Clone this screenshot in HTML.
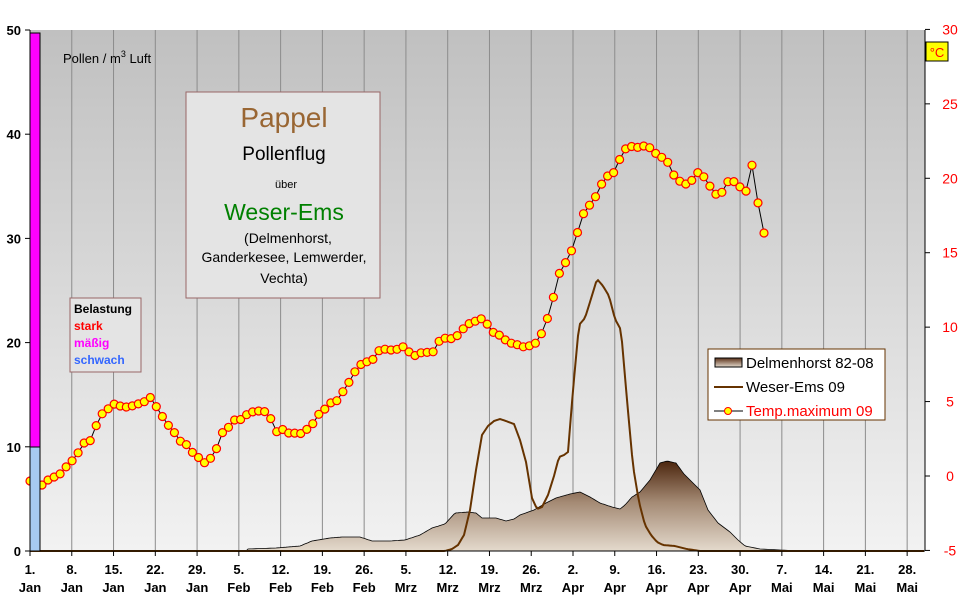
<!DOCTYPE html>
<html><head><meta charset="utf-8">
<style>
body{margin:0;background:#fff;width:966px;height:604px;overflow:hidden;font-family:"Liberation Sans",Arial,sans-serif}
svg text{font-family:"Liberation Sans",Arial,sans-serif}
</style></head><body>
<svg id="s" width="966" height="604" xmlns="http://www.w3.org/2000/svg">
<defs>
<linearGradient id="bg" x1="0" y1="0" x2="0" y2="1">
<stop offset="0" stop-color="#c0c0c0"/><stop offset="1" stop-color="#f2f2f2"/></linearGradient>
<linearGradient id="ar" gradientUnits="userSpaceOnUse" x1="0" y1="462" x2="0" y2="551">
<stop offset="0" stop-color="#4e2810"/><stop offset="0.45" stop-color="#a48a74"/><stop offset="1" stop-color="#e4dacd"/></linearGradient>
<linearGradient id="lg" x1="0" y1="0" x2="0" y2="1">
<stop offset="0" stop-color="#5a3018"/><stop offset="1" stop-color="#e4dacd"/></linearGradient>
</defs>
<rect x="30" y="30" width="895" height="521" fill="url(#bg)"/>
<g id="grid" stroke="#8c8c8c" stroke-width="1"></g>
<path id="area" fill="url(#ar)" stroke="#000" stroke-width="0.8"/>
<polyline id="we" fill="none" stroke="#663300" stroke-width="2"/>
<polyline id="tl" fill="none" stroke="#000" stroke-width="1"/>
<g id="mk"></g>
<rect x="30" y="33" width="10" height="414" fill="#ff00ff" stroke="#000" stroke-width="1"/>
<rect x="30" y="447" width="10" height="104" fill="#a6caf0" stroke="#000" stroke-width="1"/>
<line x1="30" y1="30" x2="30" y2="551" stroke="#000"/>
<line x1="30" y1="551" x2="925" y2="551" stroke="#000"/>
<line x1="925" y1="30" x2="925" y2="551" stroke="#000"/>
<g id="ax" font-size="13" font-weight="bold"></g>
<text x="63" y="63" font-size="13">Pollen / m<tspan font-size="9" dy="-6">3</tspan><tspan dy="6"> Luft</tspan></text>
<rect x="186" y="92" width="194" height="206" fill="#e4e4e4" stroke="#996666"/>
<text x="284" y="127" font-size="28" fill="#996633" text-anchor="middle" font-family="DejaVu Sans">Pappel</text>
<text x="284" y="160" font-size="19" text-anchor="middle">Pollenflug</text>
<text x="286" y="188" font-size="11" text-anchor="middle">über</text>
<text x="284" y="220" font-size="23" fill="#008000" text-anchor="middle">Weser-Ems</text>
<text x="288" y="243" font-size="14" text-anchor="middle">(Delmenhorst,</text>
<text x="284" y="262" font-size="14" text-anchor="middle">Ganderkesee, Lemwerder,</text>
<text x="284" y="283" font-size="14" text-anchor="middle">Vechta)</text>
<rect x="70" y="298" width="71" height="74" fill="#e4e4e4" stroke="#996666"/>
<text x="74" y="313" font-size="12" font-weight="bold">Belastung</text>
<text x="74" y="330" font-size="12" font-weight="bold" fill="#ff0000">stark</text>
<text x="74" y="347" font-size="12" font-weight="bold" fill="#ff00ff">mäßig</text>
<text x="74" y="364" font-size="12" font-weight="bold" fill="#3366ff">schwach</text>
<rect x="708" y="349" width="177" height="71" fill="#fff" stroke="#663300"/>
<rect x="715" y="358" width="27" height="9" fill="url(#lg)" stroke="#000"/>
<text x="746" y="368" font-size="15">Delmenhorst 82-08</text>
<line x1="714" y1="387" x2="743" y2="387" stroke="#663300" stroke-width="2"/>
<text x="746" y="392" font-size="15">Weser-Ems  09</text>
<line x1="714" y1="411" x2="743" y2="411" stroke="#000"/>
<circle cx="728" cy="411" r="3.5" fill="#ffff00" stroke="#ff0000"/>
<text x="746" y="416" font-size="15" fill="#ff0000">Temp.maximum 09</text>
<rect x="926" y="42" width="22" height="19" fill="#ffff00" stroke="#000"/>
<text x="937" y="57" font-size="13" fill="#ff0000" text-anchor="middle">°C</text>
</svg>
<script>
var NS="http://www.w3.org/2000/svg";
function el(p,t,a,txt){var e=document.createElementNS(NS,t);for(var k in a)e.setAttribute(k,a[k]);if(txt!=null)e.textContent=txt;document.getElementById(p).appendChild(e);return e;}
var D=5.967;
var lab=["1.|Jan","8.|Jan","15.|Jan","22.|Jan","29.|Jan","5.|Feb","12.|Feb","19.|Feb","26.|Feb","5.|Mrz","12.|Mrz","19.|Mrz","26.|Mrz","2.|Apr","9.|Apr","16.|Apr","23.|Apr","30.|Apr","7.|Mai","14.|Mai","21.|Mai","28.|Mai"];
for(var i=0;i<22;i++){var x=30+i*7*D;
 if(i>0)el("grid","line",{x1:x,y1:30,x2:x,y2:551});
 el("ax","line",{x1:x,y1:551,x2:x,y2:556,stroke:"#000"});
 var p=lab[i].split("|");
 el("ax","text",{x:x,y:574,"text-anchor":"middle"},p[0]);
 el("ax","text",{x:x,y:592,"text-anchor":"middle"},p[1]);}
for(var v=0;v<=50;v+=10){var y=551-v*10.42;
 el("ax","line",{x1:25,y1:y,x2:30,y2:y,stroke:"#000"});
 el("ax","text",{x:21,y:y+5,"text-anchor":"end"},v);}
for(var t=-5;t<=30;t+=5){var y=476-t*14.886;
 el("ax","line",{x1:925,y1:y,x2:930,y2:y,stroke:"#000"});
 el("ax","text",{x:950,y:y+5,"text-anchor":"middle",fill:"#ff0000","font-size":"14","font-weight":"normal"},t);}
function interp(k,x){for(var i=0;i<k.length-1;i++){if(x>=k[i][0]&&x<=k[i+1][0]){var f=(x-k[i][0])/(k[i+1][0]-k[i][0]);return k[i][1]+f*(k[i+1][1]-k[i][1]);}}return k[k.length-1][1];}
var T=[[30,481],[36,483],[42,485],[48,480],[54,477],[60,474],[66,467],[72,461],[78,453],[84,443],[90,441],[96,426],[102,414],[108,409],[114,404],[120,406],[126,407],[132,406],[138,404],[144,402],[150,397],[156,406],[162,416],[168,425],[174,432],[180,441],[186,444],[192,452],[198,457],[204,463],[210,459],[216,450],[222,433],[228,428],[234,420],[240,420],[246,415],[252,412],[258,411],[264,411],[270,417],[276,432],[282,429],[288,433],[294,433],[300,434],[306,430],[312,425],[318,415],[324,410],[330,403],[336,402],[342,393],[348,384],[354,373],[360,365],[366,362],[372,361],[378,351],[384,349],[390,350],[396,350],[402,346],[408,351],[414,356],[420,353],[426,352],[432,354],[438,342],[444,338],[450,339],[456,337],[462,330],[468,324],[474,322],[480,318],[486,322],[492,332],[498,334],[504,339],[510,343],[516,344],[522,347],[528,346],[534,345],[540,337],[546,323],[552,304],[558,276],[564,265],[570,255],[576,238],[582,216],[588,207],[594,200],[600,187],[606,176],[612,176],[618,163],[624,150],[630,146],[636,148],[642,146],[648,146],[654,152],[660,157],[666,158],[672,173],[678,180],[684,184],[690,184],[696,172],[702,174],[708,183],[714,193],[720,197],[726,182],[732,181],[738,183],[744,195],[748,187],[752,165],[758,203],[764,233]];
var pts=[];var st=734/122;for(var k=0;k<=122;k++){var x=30+k*st;var y=interp(T,x);pts.push(x.toFixed(1)+","+y.toFixed(1));el("mk","circle",{cx:x.toFixed(1),cy:y.toFixed(1),r:4,fill:"#ffff00",stroke:"#ff0000","stroke-width":1.2});}
document.getElementById("tl").setAttribute("points",pts.join(" "));
var W=[[30,551],[445,551],[452,549],[458,545],[464,535],[470,510],[476,470],[482,435],[488,426],[494,421],[500,419],[506,421],[514,424],[520,440],[526,462],[532,498],[537,509],[542,507],[548,495],[554,476],[559,457],[564,455],[568,452],[573,390],[579,325],[585,318],[590,302],[597,279],[603,286],[609,296],[615,319],[621,330],[627,400],[633,466],[639,502],[645,525],[651,535],[657,542],[663,545],[675,546],[687,549],[700,551],[925,551]];
var wp=[];for(var x=30;x<=925;x+=2)wp.push(x+","+interp(W,x).toFixed(1));
document.getElementById("we").setAttribute("points",wp.join(" "));
var A=[[246,551],[248,549],[276,548],[300,546],[312,541],[330,538],[342,537],[360,537],[372,541],[390,541],[405,540],[420,535],[432,528],[445,524],[455,513],[468,512],[476,513],[482,518],[496,518],[506,521],[514,519],[520,515],[534,510],[546,503],[556,498],[570,494],[580,492],[590,497],[600,503],[612,507],[620,509],[625,505],[632,497],[640,492],[650,480],[660,463],[667,461],[676,463],[684,474],[692,482],[700,490],[708,510],[718,523],[730,532],[738,540],[745,546],[760,549],[780,550],[800,551]];
var ap="M246,551";for(var x=246;x<=800;x+=2)ap+=" L"+x+","+interp(A,x).toFixed(1);ap+=" L800,551 Z";
document.getElementById("area").setAttribute("d",ap);
</script>
</body></html>
